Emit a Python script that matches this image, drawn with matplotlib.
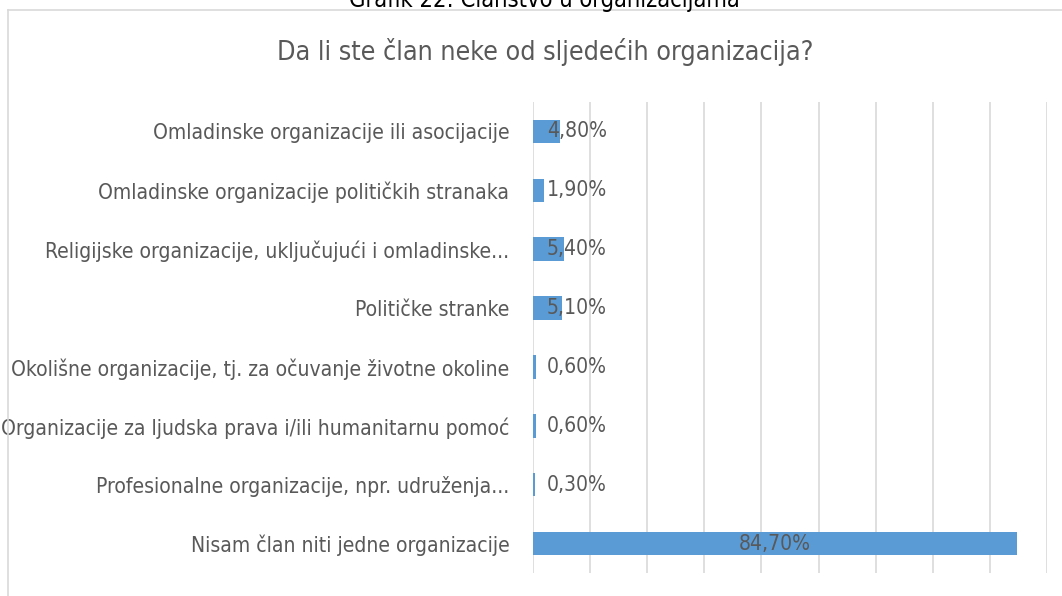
import matplotlib.pyplot as plt
from matplotlib.lines import Line2D

# categories top -> bottom
categories = [
    "Omladinske organizacije ili asocijacije",
    "Omladinske organizacije političkih stranaka",
    "Religijske organizacije, uključujući i omladinske...",
    "Političke stranke",
    "Okolišne organizacije, tj. za očuvanje životne okoline",
    "Organizacije za ljudska prava i/ili humanitarnu pomoć",
    "Profesionalne organizacije, npr. udruženja...",
    "Nisam član niti jedne organizacije",
]
values = [4.8, 1.9, 5.4, 5.1, 0.6, 0.6, 0.3, 84.7]
value_labels = ["4,80%", "1,90%", "5,40%", "5,10%", "0,60%", "0,60%", "0,30%", "84,70%"]

title = "Da li ste član neke od sljedećih organizacija?"
caption = "Grafik 22: Članstvo u organizacijama"

bar_color = "#5B9BD5"
text_color = "#595959"
grid_color = "#D9D9D9"
font = dict(family=["DejaVu Sans"], stretch="condensed")

fig = plt.figure(figsize=(10.62, 5.96), dpi=100)
ax = fig.add_axes([0.5019, 0.0386, 0.4840, 0.7903])

y = list(range(len(categories)))
ax.barh(y, values, height=0.4, color=bar_color, zorder=3)
ax.set_ylim(len(categories) - 0.5, -0.5)
ax.set_xlim(0, 90)
ax.set_xticks(range(0, 91, 10))
ax.xaxis.grid(True, color=grid_color, linewidth=1.2, zorder=0)
ax.tick_params(axis="x", length=0, labelbottom=False)
ax.tick_params(axis="y", length=0, pad=17)
ax.set_yticks(y)
ax.set_yticklabels(categories, fontsize=15.1, color=text_color, **font)
for s in ax.spines.values():
    s.set_visible(False)

# value labels: centred inside the long bar, just after the axis for short ones
for i, (v, lab) in enumerate(zip(values, value_labels)):
    if v > 20:
        ax.text(v / 2, i, lab, ha="center", va="center", fontsize=15.1,
                color=text_color, zorder=4, **font)
    else:
        ax.annotate(lab, xy=(0, i), xytext=(10, 0), textcoords="offset points",
                    ha="left", va="center", fontsize=15.1, color=text_color,
                    zorder=4, **font)

fig.text(0.513, 0.912, title, ha="center", va="center", fontsize=19.3,
         color=text_color, **font)
# caption above the chart area, partly cut off at the top edge
fig.text(0.513, 1.0 + 0.004, caption, ha="center", va="center", fontsize=17,
         color="black", **font)

# chart area border (top and left visible)
fig.add_artist(Line2D([8 / 1062, 1.0], [1 - 10 / 596, 1 - 10 / 596],
                      transform=fig.transFigure, color=grid_color, linewidth=1.2))
fig.add_artist(Line2D([8 / 1062, 8 / 1062], [0, 1 - 10 / 596],
                      transform=fig.transFigure, color=grid_color, linewidth=1.2))

fig.savefig("out.png", dpi=100)
